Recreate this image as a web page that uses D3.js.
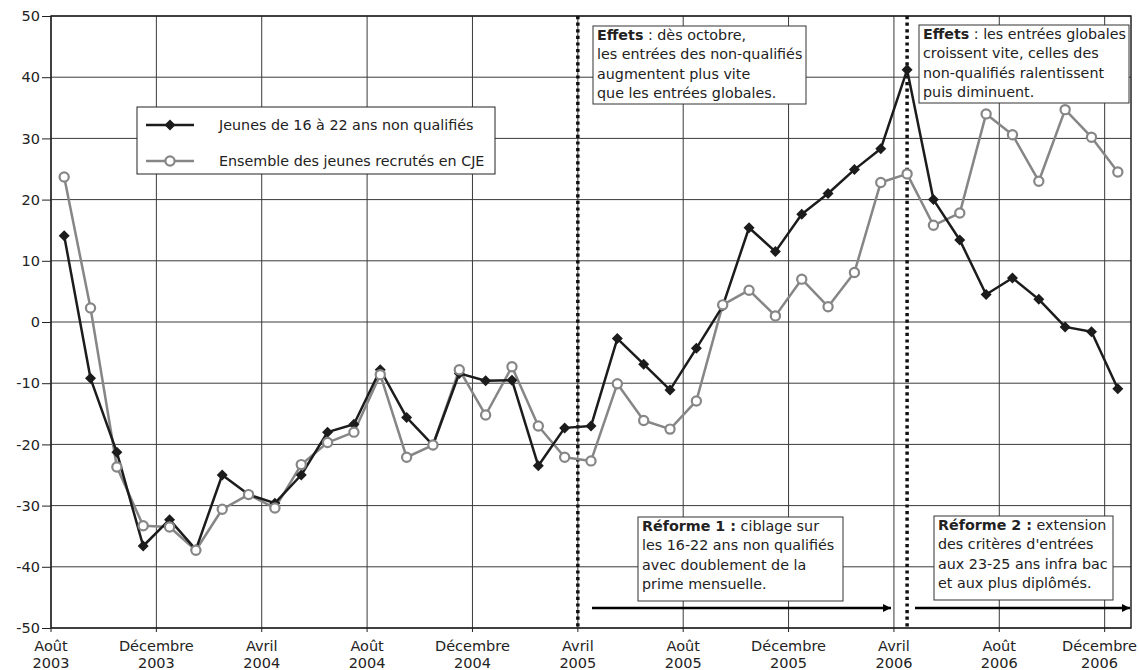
<!DOCTYPE html>
<html>
<head>
<meta charset="utf-8">
<script src="https://cdn.jsdelivr.net/npm/d3@7"></script>
<style>
  html, body { margin: 0; padding: 0; background: #fff; }
  svg { display: block; font-family: "DejaVu Sans", Verdana, sans-serif; }
</style>
</head>
<body>
<svg id="chart" width="1139" height="670"></svg>
<script>
// ---- Data ----
const months = [
  "2003-08","2003-09","2003-10","2003-11","2003-12",
  "2004-01","2004-02","2004-03","2004-04","2004-05","2004-06","2004-07","2004-08","2004-09","2004-10","2004-11","2004-12",
  "2005-01","2005-02","2005-03","2005-04","2005-05","2005-06","2005-07","2005-08","2005-09","2005-10","2005-11","2005-12",
  "2006-01","2006-02","2006-03","2006-04","2006-05","2006-06","2006-07","2006-08","2006-09","2006-10","2006-11","2006-12"
];
const nonQualifies = [
  14.1, -9.2, -21.3, -36.6, -32.3,
  -37.2, -25.0, -28.2, -29.6, -25.0, -18.0, -16.7, -7.8, -15.6, -20.1, -8.4,
  -9.6, -9.5, -23.5, -17.3, -17.0, -2.7, -6.9, -11.1, -4.3, 2.6, 15.4, 11.5,
  17.6, 21.0, 24.9, 28.3, 41.2, 20.0, 13.4, 4.5, 7.2, 3.7, -0.8, -1.6, -10.9
];
const ensemble = [
  23.7, 2.3, -23.7, -33.3, -33.5,
  -37.3, -30.6, -28.2, -30.4, -23.3, -19.7, -18.0, -8.6, -22.1, -20.1, -7.8,
  -15.2, -7.3, -17.0, -22.1, -22.7, -10.1, -16.1, -17.5, -12.9, 2.8, 5.2, 1.0,
  7.0, 2.5, 8.1, 22.8, 24.2, 15.8, 17.8, 34.0, 30.6, 23.0, 34.7, 30.2, 24.5
];
const seriesNames = ["Jeunes de 16 à 22 ans non qualifiés", "Ensemble des jeunes recrutés en CJE"];
const tickMonthLabels = [
  ["Août","2003"],["Décembre","2003"],["Avril","2004"],["Août","2004"],["Décembre","2004"],
  ["Avril","2005"],["Août","2005"],["Décembre","2005"],["Avril","2006"],["Août","2006"],["Décembre","2006"]
];
const yTicks = [50,40,30,20,10,0,-10,-20,-30,-40,-50];

// ---- Layout ----
const W = 1139;
const svg = d3.select("#chart");
const L = 51, R = 1131, T = 16, B = 628;
const FS = "14.3px";

const x = d3.scaleLinear().domain([0, months.length]).range([L, R]);
const y = d3.scaleLinear().domain([-50, 50]).range([B, T]);
const xc = i => x(i + 0.5);

const tickIdx = d3.range(0, months.length, 4);

// gridlines
const grid = svg.append("g");
grid.selectAll("line.h").data(yTicks).join("line")
  .attr("x1", L).attr("x2", R).attr("y1", d => y(d)).attr("y2", d => y(d))
  .attr("stroke", "#3a3a3a").attr("stroke-width", 1);
grid.selectAll("line.v").data(tickIdx).join("line")
  .attr("x1", d => x(d)).attr("x2", d => x(d)).attr("y1", T).attr("y2", B)
  .attr("stroke", "#3a3a3a").attr("stroke-width", 1);

// y axis
const yAxis = d3.axisLeft(y).tickValues(yTicks).tickSize(9).tickPadding(2).tickFormat(d => String(d));
const gy = svg.append("g").attr("transform", `translate(${L},0)`).call(yAxis);
gy.select(".domain").remove();
gy.selectAll(".tick line").attr("stroke", "#222");
gy.selectAll(".tick text").attr("fill", "#222").style("font-size", "14.5px").style("font-family", "DejaVu Sans, sans-serif");

// x axis
const gx = svg.append("g").attr("transform", `translate(0,${B})`);
gx.selectAll("line").data(tickIdx).join("line")
  .attr("x1", d => x(d)).attr("x2", d => x(d)).attr("y1", 0).attr("y2", 4).attr("stroke", "#222");
const xt = gx.selectAll("text").data(tickIdx).join("text")
  .attr("text-anchor", "middle").attr("fill", "#222").style("font-size", "14.5px");
xt.append("tspan").attr("x", d => x(d)).attr("y", 23).text((d, i) => tickMonthLabels[i][0]);
xt.append("tspan").attr("x", d => x(d)).attr("y", 40).text((d, i) => tickMonthLabels[i][1]);
// keep labels inside the picture
xt.each(function() {
  const bb = this.getBBox();
  const over = bb.x + bb.width - (W - 2);
  if (over > 0) d3.select(this).selectAll("tspan").attr("x", function() { return +d3.select(this).attr("x") - over; });
});

// plot border
svg.append("rect").attr("x", L).attr("y", T).attr("width", R - L).attr("height", B - T)
  .attr("fill", "none").attr("stroke", "#222").attr("stroke-width", 1.5);

// dotted reform lines
const reformLines = [x(20), xc(32)];
svg.selectAll("line.reform").data(reformLines).join("line")
  .attr("x1", d => d).attr("x2", d => d).attr("y1", T).attr("y2", B)
  .attr("stroke", "#111").attr("stroke-width", 3.5).attr("stroke-dasharray", "3.2,3.4");

// arrows
const defs = svg.append("defs");
defs.append("marker").attr("id", "arr").attr("viewBox", "0 0 10 10").attr("refX", 10).attr("refY", 5)
  .attr("markerWidth", 11).attr("markerHeight", 8).attr("markerUnits", "userSpaceOnUse").attr("orient", "auto")
  .append("path").attr("d", "M0,0 L10,5 L0,10 Z").attr("fill", "#000");
const arrowY = 608;
[[592, 891], [915, 1130]].forEach(([a, b]) => {
  svg.append("line").attr("x1", a).attr("x2", b).attr("y1", arrowY).attr("y2", arrowY)
    .attr("stroke", "#000").attr("stroke-width", 2.5).attr("marker-end", "url(#arr)");
});

// series
const colBlack = "#1c1c1c", colGrey = "#868686";
const line = d3.line().x((d, i) => xc(i)).y(d => y(d));
svg.append("path").datum(ensemble).attr("d", line).attr("fill", "none")
  .attr("stroke", colGrey).attr("stroke-width", 2.5).attr("stroke-linejoin", "round");
svg.append("path").datum(nonQualifies).attr("d", line).attr("fill", "none")
  .attr("stroke", colBlack).attr("stroke-width", 2.5).attr("stroke-linejoin", "round");

const diamond = s => `M0,${-s} L${s},0 L0,${s} L${-s},0 Z`;
svg.selectAll("path.dia").data(nonQualifies).join("path")
  .attr("transform", (d, i) => `translate(${xc(i)},${y(d)})`)
  .attr("d", diamond(5.5)).attr("fill", colBlack);
svg.selectAll("circle.ens").data(ensemble).join("circle")
  .attr("cx", (d, i) => xc(i)).attr("cy", d => y(d)).attr("r", 4.6)
  .attr("fill", "#fff").attr("stroke", colGrey).attr("stroke-width", 2.2);

// legend
const lg = svg.append("g");
lg.append("rect").attr("x", 137).attr("y", 107).attr("width", 358).attr("height", 67)
  .attr("fill", "#fff").attr("stroke", "#222").attr("stroke-width", 1);
const legendRows = [
  {name: seriesNames[0], y: 125, color: colBlack, type: "d"},
  {name: seriesNames[1], y: 161, color: colGrey, type: "c"}
];
legendRows.forEach(r => {
  lg.append("line").attr("x1", 146).attr("x2", 194).attr("y1", r.y).attr("y2", r.y)
    .attr("stroke", r.color).attr("stroke-width", 2.5);
  if (r.type === "d") {
    lg.append("path").attr("transform", `translate(170,${r.y})`).attr("d", diamond(5.5)).attr("fill", r.color);
  } else {
    lg.append("circle").attr("cx", 170).attr("cy", r.y).attr("r", 4.6).attr("fill", "#fff")
      .attr("stroke", r.color).attr("stroke-width", 2.2);
  }
  lg.append("text").attr("x", 219).attr("y", r.y + 5).attr("fill", "#222").style("font-size", FS).text(r.name);
});

// annotation boxes
const notes = [
  {x: 593, y: 26, w: 213, h: 78, lines: [[["Effets", true], [" : dès octobre,", false]], [["les entrées des non-qualifiés", false]], [["augmentent plus vite", false]], [["que les entrées globales.", false]]]},
  {x: 919, y: 25, w: 210, h: 78, lines: [[["Effets", true], [" : les entrées globales", false]], [["croissent vite, celles des", false]], [["non-qualifiés ralentissent", false]], [["puis diminuent.", false]]]},
  {x: 638, y: 517, w: 205, h: 84, lines: [[["Réforme 1 :", true], [" ciblage sur", false]], [["les 16-22 ans non qualifiés", false]], [["avec doublement de la", false]], [["prime mensuelle.", false]]]},
  {x: 934, y: 516, w: 179, h: 84, lines: [[["Réforme 2 :", true], [" extension", false]], [["des critères d'entrées", false]], [["aux 23-25 ans infra bac", false]], [["et aux plus diplômés.", false]]]}
];
notes.forEach(n => {
  const g = svg.append("g");
  g.append("rect").attr("x", n.x).attr("y", n.y).attr("width", n.w).attr("height", n.h)
    .attr("fill", "#fff").attr("stroke", "#333").attr("stroke-width", 1);
  n.lines.forEach((ln, i) => {
    const t = g.append("text").attr("x", n.x + 4).attr("y", n.y + 14 + i * 19.3)
      .attr("fill", "#222").style("font-size", FS);
    ln.forEach(([s, b]) => t.append("tspan").style("font-weight", b ? "bold" : "normal").text(s));
  });
  // fit text to box width if needed
  g.selectAll("text").each(function() {
    const len = this.getComputedTextLength();
    const maxW = n.w - 7;
    if (len > maxW) d3.select(this).attr("textLength", maxW).attr("lengthAdjust", "spacingAndGlyphs");
  });
});
</script>
</body>
</html>
